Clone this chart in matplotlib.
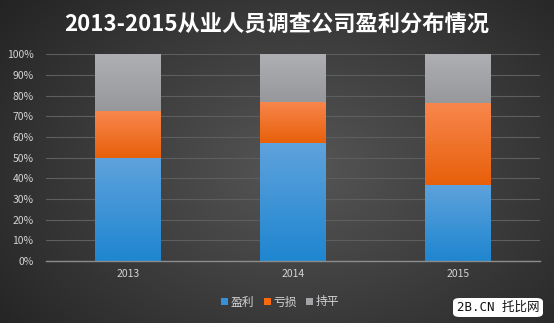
import numpy as np
import matplotlib.pyplot as plt
from matplotlib.colors import LinearSegmentedColormap
from matplotlib.patches import FancyBboxPatch

plt.rcParams["font.family"] = ["Noto Sans CJK SC", "DejaVu Sans"]

# data (share of respondents, %)
years = ["2013", "2014", "2015"]
profit = [50.0, 57.0, 37.0]
loss = [22.5, 20.0, 39.5]
even = [27.5, 23.0, 23.5]
series_names = ["盈利", "亏损", "持平"]
title = "2013-2015从业人员调查公司盈利分布情况"

colors = ["#3590d8", "#f96a0e", "#a3a4a8"]
# (top, bottom) shades for the glossy look of each segment
grads = [("#5ea2dc", "#1f86d0"), ("#f8864c", "#e8600a"), ("#aeafb3", "#97989c")]

fig = plt.figure(figsize=(5.54, 3.23), dpi=100)

# dark radial background
bg = fig.add_axes([0, 0, 1, 1])
yy, xx = np.mgrid[0:323, 0:554]
r = np.sqrt(((xx - 300) / 330.0) ** 2 + ((yy - 170) / 230.0) ** 2)
shade = np.clip(0.34 - 0.17 * r, 0.13, 0.34)
bg.imshow(shade, cmap="gray", vmin=0, vmax=1, aspect="auto")
bg.axis("off")

ax = fig.add_axes([46 / 554, 1 - 261 / 323, (540 - 46) / 554, (261 - 54.3) / 323])
ax.set_facecolor("none")

x = np.arange(len(years))
bottom = np.zeros(len(years))
ramp = np.linspace(0, 1, 64).reshape(-1, 1)
for vals, name, c, (top_c, bot_c) in zip([profit, loss, even], series_names, colors, grads):
    bars = ax.bar(x, vals, width=0.4, bottom=bottom, color=c, label=name, zorder=3)
    cmap = LinearSegmentedColormap.from_list(name, [bot_c, top_c])
    for b in bars:
        x0, y0 = b.get_x(), b.get_y()
        im = ax.imshow(ramp, cmap=cmap, aspect="auto", origin="lower",
                       extent=[x0, x0 + b.get_width(), y0, y0 + b.get_height()], zorder=3.5)
        im.set_clip_path(b)
    bottom += np.array(vals)

ax.set_xlim(-0.5, 2.5)
ax.set_ylim(0, 100)
ax.set_yticks(np.arange(0, 101, 10))
ax.set_yticklabels([f"{v}%" for v in range(0, 101, 10)])
ax.set_xticks(x)
ax.set_xticklabels(years)
ax.tick_params(colors="#d4d4d4", labelsize=7.5, length=0)
ax.tick_params(axis="y", pad=9)
ax.tick_params(axis="x", pad=6)
ax.grid(axis="y", color="#5c5e60", linewidth=0.8, zorder=0)
for s in ["top", "right", "left"]:
    ax.spines[s].set_visible(False)
ax.spines["bottom"].set_color("#8a8c8e")
ax.spines["bottom"].set_linewidth(1.0)
ax.spines["bottom"].set_zorder(4)

fig.text(0.5, 1 - 25 / 323, title, ha="center", va="center", color="white",
         fontsize=16, fontweight="bold")

leg = fig.legend(loc="center", bbox_to_anchor=(280 / 554, 1 - 302 / 323), ncol=3,
                 frameon=False, fontsize=8.5, handlelength=0.6, handleheight=0.6,
                 handletextpad=0.2, columnspacing=0.8)
for t in leg.get_texts():
    t.set_color("#d4d4d4")

# watermark
box = FancyBboxPatch((453 / 554, 1 - 317 / 323), 90 / 554, 19 / 323,
                     boxstyle="round,pad=0,rounding_size=0.012",
                     transform=fig.transFigure, facecolor="white", edgecolor="none")
fig.patches.append(box)
fig.text(498 / 554, 1 - 307.5 / 323, "2B.CN 托比网", ha="center", va="center",
         color="#111111", fontsize=9, family=["DejaVu Sans Mono", "Noto Sans CJK SC"])

fig.savefig("out.png", dpi=100)
